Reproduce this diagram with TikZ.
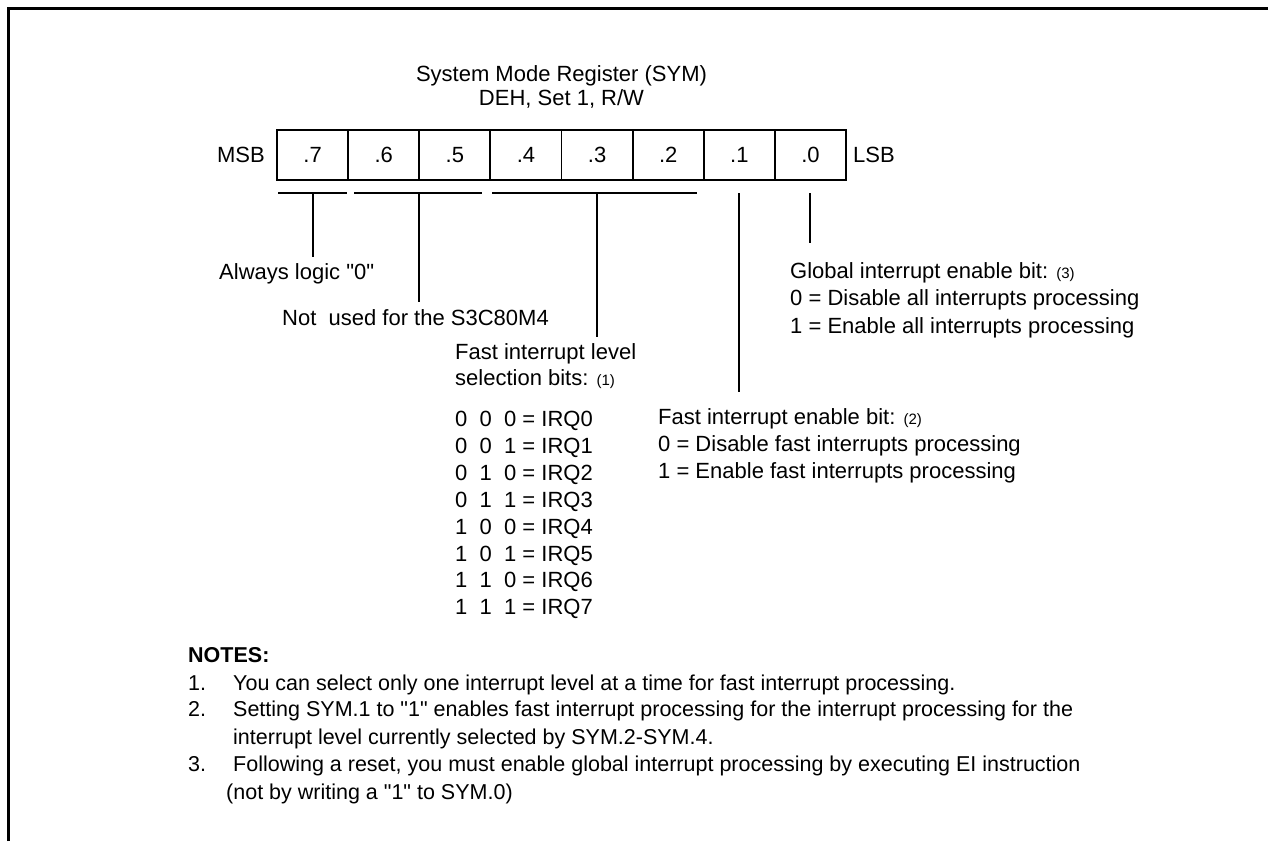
\documentclass[tikz,border=0pt]{standalone}
\usepackage{fontspec}
\newfontfamily\arialfont{Liberation Sans}
\newcommand\smallnum[1]{{\fontsize{15}{18}\selectfont #1}}
\begin{document}
\begin{tikzpicture}[x=1pt,y=-1pt,
  txt/.style={font=\arialfont\fontsize{22}{26}\selectfont, inner sep=0pt, anchor=base west},
  ntxt/.style={font=\arialfont\fontsize{21.5}{26}\selectfont, inner sep=0pt, anchor=base west},
  cell/.style={draw, line width=1.8pt, minimum width=71.125pt, minimum height=50pt, inner sep=0pt, font=\arialfont\fontsize{22}{26}\selectfont},
  ln/.style={line width=1.8pt},
  frame/.style={line width=2.7pt}]
\useasboundingbox (0,0) rectangle (1268,841);
% frame
\coordinate (fbl) at (8.5,841);
\coordinate (ftl) at (8.5,8.5);
\coordinate (ftr) at (1268,8.5);
\draw[frame] (fbl) -- (ftl) -- (ftr);
% title
\node[txt, anchor=base] (title1) at (561.5,81) {System Mode Register (SYM)};
\node[txt, anchor=base] (title2) at (561.5,105.5) {DEH, Set 1, R/W};
% register
\node[cell] (b7) at (312.56,155) {.7};
\node[cell] (b6) at (383.69,155) {.6};
\node[cell] (b5) at (454.81,155) {.5};
\node[cell] (b4) at (525.94,155) {.4};
\node[cell] (b3) at (597.06,155) {.3};
\node[cell] (b2) at (668.19,155) {.2};
\node[cell] (b1) at (739.31,155) {.1};
\node[cell] (b0) at (810.44,155) {.0};
\node[txt, anchor=base east] (msb) at (265,162.5) {MSB};
\node[txt] (lsb) at (853,162.5) {LSB};
% brackets
\coordinate (k1a) at (278,193); \coordinate (k1b) at (347,193);
\coordinate (k2a) at (354,193); \coordinate (k2b) at (482,193);
\coordinate (k3a) at (492,193); \coordinate (k3b) at (697,193);
\draw[ln] (k1a) -- (k1b);
\draw[ln] (k2a) -- (k2b);
\draw[ln] (k3a) -- (k3b);
\coordinate (v7t) at (313,193); \coordinate (v7b) at (313,257);
\coordinate (v65t) at (419,193); \coordinate (v65b) at (419,302);
\coordinate (v42t) at (597,193); \coordinate (v42b) at (597,337);
\coordinate (v1t) at (739,193); \coordinate (v1b) at (739,392);
\coordinate (v0t) at (810,193); \coordinate (v0b) at (810,243);
\draw[ln] (v7t) -- (v7b);
\draw[ln] (v65t) -- (v65b);
\draw[ln] (v42t) -- (v42b);
\draw[ln] (v1t) -- (v1b);
\draw[ln] (v0t) -- (v0b);
% labels
\node[txt] (always) at (219,279.5) {Always logic "0"};
\node[txt] (notused) at (282,325.5) {Not\ \ used for the S3C80M4};
\node[txt] (fil1) at (455,359) {Fast interrupt level};
\node[txt] (fil2) at (455,385.5) {selection bits: \smallnum{(1)}};
\node[txt] (q0) at (455,426.5) {0\ \ 0\ \ 0 = IRQ0};
\node[txt] (q1) at (455,453.4) {0\ \ 0\ \ 1 = IRQ1};
\node[txt] (q2) at (455,480.3) {0\ \ 1\ \ 0 = IRQ2};
\node[txt] (q3) at (455,507.2) {0\ \ 1\ \ 1 = IRQ3};
\node[txt] (q4) at (455,534.1) {1\ \ 0\ \ 0 = IRQ4};
\node[txt] (q5) at (455,561.0) {1\ \ 0\ \ 1 = IRQ5};
\node[txt] (q6) at (455,587.9) {1\ \ 1\ \ 0 = IRQ6};
\node[txt] (q7) at (455,614.8) {1\ \ 1\ \ 1 = IRQ7};
\node[txt] (fe1) at (658,424.5) {Fast interrupt enable bit: \smallnum{(2)}};
\node[txt] (fe2) at (658,451.5) {0 = Disable fast interrupts processing};
\node[txt] (fe3) at (658,478.5) {1 = Enable fast interrupts processing};
\node[txt] (ge1) at (790,278.5) {Global interrupt enable bit: \smallnum{(3)}};
\node[txt] (ge2) at (790,305.5) {0 = Disable all interrupts processing};
\node[txt] (ge3) at (790,333.5) {1 = Enable all interrupts processing};
% notes
\node[ntxt, font=\arialfont\fontsize{21.5}{26}\selectfont\bfseries] (notes) at (188,662.5) {NOTES:};
\node[ntxt] (n1) at (188,690.5) {1.};
\node[ntxt] (n1t) at (233,690.5) {You can select only one interrupt level at a time for fast interrupt processing.};
\node[ntxt] (n2) at (188,716.5) {2.};
\node[ntxt] (n2t) at (233,716.5) {Setting SYM.1 to "1" enables fast interrupt processing for the interrupt processing for the};
\node[ntxt] (n2c) at (233,744.5) {interrupt level currently selected by SYM.2-SYM.4.};
\node[ntxt] (n3) at (188,771.5) {3.};
\node[ntxt] (n3t) at (233,771.5) {Following a reset, you must enable global interrupt processing by executing EI instruction};
\node[ntxt] (n3c) at (226,799.5) {(not by writing a "1" to SYM.0)};
\end{tikzpicture}
\end{document}
